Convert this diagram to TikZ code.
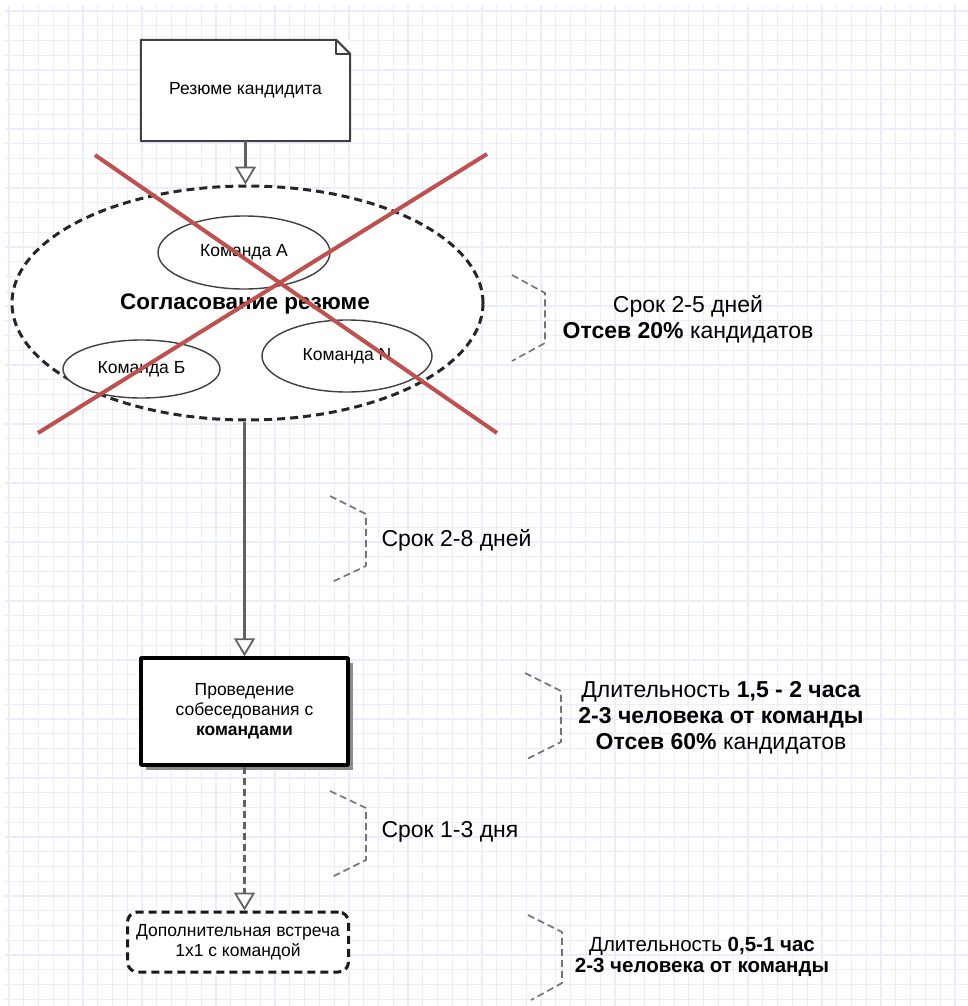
\documentclass[tikz,border=0pt]{standalone}
\usepackage{fontspec}
\setmainfont{Liberation Sans}
\usetikzlibrary{arrows.meta,shapes.geometric,shadows}

\definecolor{gridcol}{RGB}{236,236,255}
\definecolor{crossred}{RGB}{192,80,77}

\tikzset{
	gridline/.style={draw=gridcol, line width=1.2pt},
	outline/.style={draw=black!75, line width=2pt},
	flow/.style={draw=black!62, line width=2.2pt, -{Triangle[fill=white, length=18pt, width=21pt, line width=1.8pt]}},
	team/.style={ellipse, draw=black!75, line width=1.4pt, fill=white, inner sep=0pt},
	bracket/.style={draw=black!55, line width=1.6pt, dash pattern=on 7pt off 4pt},
	cross/.style={draw=crossred, line width=4pt},
	note/.style={align=center, font=\fontsize{23}{26}\selectfont}
}

\begin{document}
\begin{tikzpicture}[x=1pt, y=-1pt, font=\fontsize{17.5}{20}\selectfont, line join=round]
	\useasboundingbox (0,0) rectangle (968,1006);
	% grid
	\foreach \i in {0,...,65} \draw[gridline] ({9+14.78*\i},5) -- ({9+14.78*\i},1006);
	\foreach \i in {0,...,67} \draw[gridline] (5,{11+14.75*\i}) -- (968,{11+14.75*\i});

	% resume document
	\node[minimum width=209pt, minimum height=101pt, fill=white] (resume) at (245.5,90.5) {Резюме кандидита};
	\draw[outline] (resume.south west) -- (resume.north west) -- ([xshift=-14pt]resume.north east)
		-- ([yshift=-14pt]resume.north east) -- (resume.south east) -- cycle;
	\draw[outline] ([xshift=-14pt]resume.north east) -- ([xshift=-14pt, yshift=-14pt]resume.north east) -- ([yshift=-14pt]resume.north east);

	% consensus
	\node[ellipse, draw=black!85, fill=white, line width=3pt, dash pattern=on 8pt off 5pt,
		minimum width=471pt, minimum height=234pt] (consensus) at (247.5,303) {};
	\node[team, minimum width=172pt, minimum height=73pt] (teamA) at (244,252.5) {Команда А};
	\node[team, minimum width=157pt, minimum height=58pt] (teamB) at (141.5,369) {Команда Б};
	\node[team, minimum width=170pt, minimum height=72pt] (teamN) at (347,356) {Команда N};
	\node[font=\fontsize{22.5}{26}\selectfont\bfseries] (title) at (245,304) {Согласование резюме};

	% interview and extra meeting
	\node[draw=black, line width=3.5pt, fill=white, align=center, minimum width=207pt, minimum height=107pt,
		drop shadow={shadow xshift=5pt, shadow yshift=-5pt, fill=black!45, opacity=1}] (interview) at (244.5,711.5)
		{Проведение\\собеседования с\\\textbf{командами}};
	\node[draw=black!90, line width=3pt, dash pattern=on 8pt off 5pt, rounded corners=10pt, fill=white, align=center,
		minimum width=221pt, minimum height=60pt] (extra) at (238,942) {Дополнительная встреча\\1x1 с командой};

	% connectors
	\draw[flow] (resume.south) -- (resume.south |- consensus.north);
	\draw[flow] (interview.north |- consensus.south) -- (interview.north);
	\draw[flow, dash pattern=on 7pt off 4pt] (interview.south) -- (interview.south |- extra.north);

	% crossed out
	\draw[cross] (95,155) -- (497,433);
	\draw[cross] (487,154) -- (38,433);

	% brackets
	\draw[bracket] (512,275) -- (545,293) -- (545,343) -- (512,361);
	\draw[bracket] (330,496) -- (366,514) -- (366,566) -- (332,582);
	\draw[bracket] (525,673) -- (561,691) -- (561,742) -- (527,759);
	\draw[bracket] (330,791) -- (366,808) -- (366,860) -- (332,877);
	\draw[bracket] (528,915) -- (562,932) -- (562,983) -- (531,1000);

	% notes
	\node[note] (term1) at (688,319) {Срок 2-5 дней\\\textbf{Отсев 20\%} кандидатов};
	\node[note, anchor=west] (term2) at (378,540) {Срок 2-8 дней};
	\node[note] (term3) at (721,718) {Длительность \textbf{1,5 - 2 часа}\\\textbf{2-3 человека от команды}\\\textbf{Отсев 60\%} кандидатов};
	\node[note, anchor=west] (term4) at (378,832) {Срок 1-3 дня};
	\node[note, font=\fontsize{20.5}{21}\selectfont] (term5) at (702,957) {Длительность \textbf{0,5-1 час}\\\textbf{2-3 человека от команды}};
\end{tikzpicture}
\end{document}
